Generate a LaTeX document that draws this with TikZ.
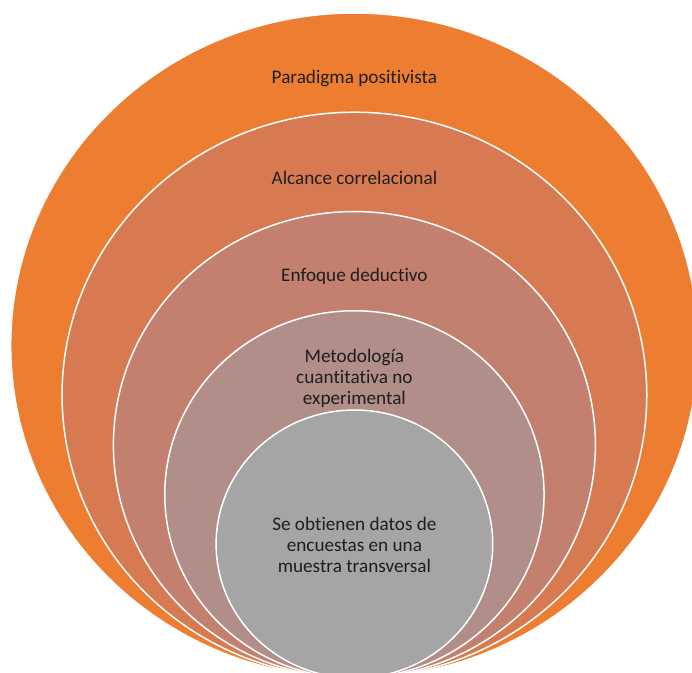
\documentclass[tikz,border=0pt]{standalone}
\usepackage{fontspec}
\setmainfont{Carlito}[Ligatures={NoCommon}]
\usepackage{tikz}
\usetikzlibrary{shapes.geometric, positioning}
\definecolor{ringA}{HTML}{ED7D31}
\definecolor{ringB}{HTML}{D77A52}
\definecolor{ringC}{HTML}{C4806E}
\definecolor{ringD}{HTML}{B28E88}
\definecolor{ringE}{HTML}{A5A5A5}
\definecolor{labeltext}{HTML}{1E1E1E}
\tikzset{
	ring/.style={ellipse, draw=white, line width=1.5pt, inner sep=0pt},
	ringlabel/.style={text=labeltext, align=center, font=\fontsize{19.2}{21}\selectfont},
}
\begin{document}
\begin{tikzpicture}[x=1pt, y=-1pt]
			\useasboundingbox (0,0) rectangle (692,672);
			\clip (0,0) rectangle (692,672);
			
			\node[ring, fill=ringA, minimum width=687.4pt, minimum height=665pt] (PARADIGMA) at (354.4,345.5) {};
			\node[ring, fill=ringB, minimum width=584.7pt, minimum height=565.8pt] (ALCANCE) at (354.4,395.1) {};
			\node[ring, fill=ringC, minimum width=482pt, minimum height=466.5pt] (ENFOQUE) at (354.4,444.8) {};
			\node[ring, fill=ringD, minimum width=379.3pt, minimum height=367.3pt] (METODO) at (354.4,494.4) {};
			\node[ring, fill=ringE, minimum width=276.6pt, minimum height=268pt] (DATOS) at (354.4,544) {};
			
			\node[ringlabel] (T-PARADIGMA) at (354.4,78.5) {Paradigma positivista};
			\node[ringlabel] (T-ALCANCE) at (354.4,177.5) {Alcance correlacional};
			\node[ringlabel] (T-ENFOQUE) at (354.4,276.5) {Enfoque deductivo};
			\node[ringlabel] (T-METODO) at (354.4,378) {Metodología\\ cuantitativa no\\ experimental};
			\node[ringlabel] (T-DATOS) at (354.4,545) {Se obtienen datos de\\ encuestas en una\\ muestra transversal};
		\end{tikzpicture}
\end{document}
